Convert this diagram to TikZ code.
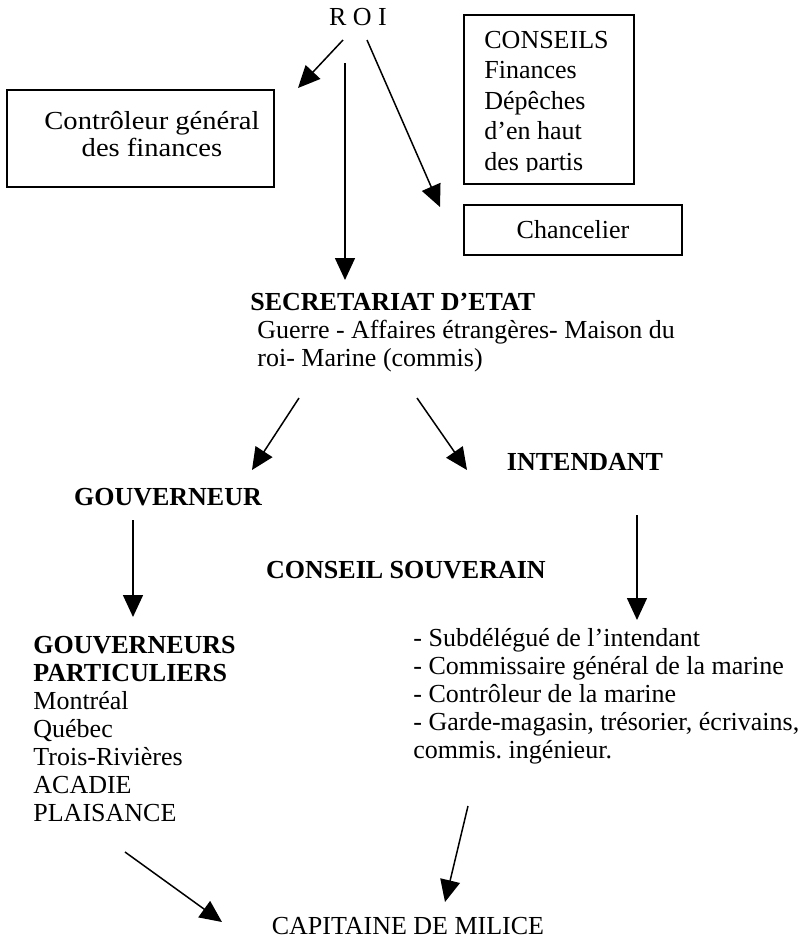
\documentclass[tikz,border=0pt]{standalone}
\usepackage{fontspec}
\setmainfont{Liberation Serif}
\usetikzlibrary{arrows.meta,calc}

\tikzset{
    boite/.style={draw, line width=0.8pt},
    titre/.style={font=\bfseries},
    fleche/.style={line width=0.75pt, -{Triangle[length=11pt,width=10pt]}},
}

\begin{document}
\begin{tikzpicture}[x=0.5pt, y=-0.5pt, every node/.style={inner sep=0pt}]
    \fontsize{13}{14}\selectfont\frenchspacing
    \useasboundingbox (0,0) rectangle (809,939);

    \node (roi) at (358,17) {R O I};

    % les conseils (texte coupe en bas)
    \node (conseils) [boite, anchor=north west, minimum width=85pt, minimum height=84.5pt] at (463,14) {};
    \begin{scope}
        \clip (463,14) rectangle (633,171);
        \node (conseils-liste) [anchor=base west] at (484,48)
            {\fontsize{13}{15.25}\selectfont
             \begin{tabular}[t]{@{}l@{}}
                CONSEILS  \\
                Finances  \\
                Dépêches  \\
                d’en haut \\
                des partis
            \end{tabular}};
    \end{scope}

    \node (ctrl) [boite, minimum width=133.5pt, minimum height=48.5pt] at (140.5,138.5) {};
    \node (ctrl-texte) [anchor=base] at (152,129)
        {\fontsize{13}{13.5}\addfontfeatures{FakeStretch=1.1}\selectfont
         \begin{tabular}[t]{@{}c@{}}
            Contrôleur général \\
            des finances
        \end{tabular}};
    \node (chanc) [boite, minimum width=109pt, minimum height=25pt] at (573,230) {Chancelier};

    \node (secr) [anchor=base west] at (250,310)
        {\begin{tabular}[t]{@{}l@{}}
            \textbf{SECRETARIAT D’ETAT} \\
            \hspace{3.5pt}Guerre - Affaires étrangères- Maison du \\
            \hspace{3.5pt}roi- Marine (commis)
        \end{tabular}};

    \node (gouv)    [titre] at (168,497) {GOUVERNEUR};
    \node (intend)  [titre] at (585,462) {INTENDANT};
    \node (souv)    [titre] at (406,570) {CONSEIL SOUVERAIN};

    \node (partic) [anchor=base west] at (33,653)
        {\begin{tabular}[t]{@{}l@{}}
            \textbf{GOUVERNEURS}  \\
            \textbf{PARTICULIERS} \\
            Montréal       \\
            Québec         \\
            Trois-Rivières \\
            ACADIE         \\
            PLAISANCE
        \end{tabular}};
    \node (subdel) [anchor=base west] at (413,646)
        {\begin{tabular}[t]{@{}l@{}}
            - Subdélégué de l’intendant           \\
            - Commissaire général de la marine    \\
            - Contrôleur de la marine             \\
            - Garde-magasin, trésorier, écrivains, \\
            commis. ingénieur.
        \end{tabular}};

    \node (capit) [anchor=base] at (408,934) {CAPITAINE DE MILICE};

    % fleches
    \draw[fleche] ($(roi)+(-15,23)$) -- ($(ctrl)+(157.5,-50.5)$);
    \draw[fleche] ($(roi)+(-13,46)$) -- ($(secr.base west)+(95,-30)$);
    \draw[fleche] ($(roi)+(9,23)$) -- ($(chanc)+(-133,-23)$);
    \draw[fleche] ($(secr.base west)+(49,88)$) -- ($(gouv)+(84,-27)$);
    \draw[fleche] ($(secr.base west)+(167,88)$) -- ($(intend)+(-118,8)$);
    \draw[fleche] ($(gouv)+(-35,23)$) -- ($(partic.base west)+(100,-36)$);
    \draw[fleche] ($(intend)+(52,53)$) -- ($(subdel.base west)+(224,-26)$);
    \draw[fleche] ($(partic.base west)+(92,199)$) -- ($(capit.base)+(-186,-12)$);
    \draw[fleche] ($(subdel.base west)+(55,160)$) -- ($(capit.base)+(37,-32)$);
\end{tikzpicture}
\end{document}
